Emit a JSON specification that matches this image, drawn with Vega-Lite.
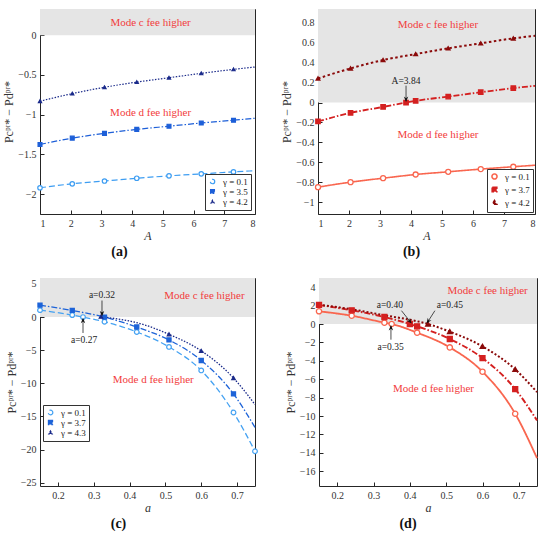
{
  "$schema": "https://vega.github.io/schema/vega-lite/v6.json",
  "padding": {"left": 2, "top": 8, "right": 6, "bottom": 2},
  "spacing": 17,
  "datasets": {
    "a": [
      {"g": "γ = 0.1", "x": 1, "y": -1.92, "m": 1},
      {"g": "γ = 0.1", "x": 2.05, "y": -1.87, "m": 1},
      {"g": "γ = 0.1", "x": 3.1, "y": -1.835, "m": 1},
      {"g": "γ = 0.1", "x": 4.15, "y": -1.8, "m": 1},
      {"g": "γ = 0.1", "x": 5.2, "y": -1.77, "m": 1},
      {"g": "γ = 0.1", "x": 6.25, "y": -1.745, "m": 1},
      {"g": "γ = 0.1", "x": 7.3, "y": -1.72, "m": 1},
      {"g": "γ = 0.1", "x": 8, "y": -1.705, "m": 0},
      {"g": "γ = 3.5", "x": 1, "y": -1.375, "m": 1},
      {"g": "γ = 3.5", "x": 2.05, "y": -1.295, "m": 1},
      {"g": "γ = 3.5", "x": 3.1, "y": -1.235, "m": 1},
      {"g": "γ = 3.5", "x": 4.15, "y": -1.185, "m": 1},
      {"g": "γ = 3.5", "x": 5.2, "y": -1.145, "m": 1},
      {"g": "γ = 3.5", "x": 6.25, "y": -1.105, "m": 1},
      {"g": "γ = 3.5", "x": 7.3, "y": -1.07, "m": 1},
      {"g": "γ = 3.5", "x": 8, "y": -1.045, "m": 0},
      {"g": "γ = 4.2", "x": 1, "y": -0.83, "m": 1},
      {"g": "γ = 4.2", "x": 2.05, "y": -0.735, "m": 1},
      {"g": "γ = 4.2", "x": 3.1, "y": -0.655, "m": 1},
      {"g": "γ = 4.2", "x": 4.15, "y": -0.59, "m": 1},
      {"g": "γ = 4.2", "x": 5.2, "y": -0.535, "m": 1},
      {"g": "γ = 4.2", "x": 6.25, "y": -0.48, "m": 1},
      {"g": "γ = 4.2", "x": 7.3, "y": -0.43, "m": 1},
      {"g": "γ = 4.2", "x": 8, "y": -0.4, "m": 0}
    ],
    "b": [
      {"g": "γ = 0.1", "x": 1, "y": -0.85, "m": 1},
      {"g": "γ = 0.1", "x": 2.05, "y": -0.8, "m": 1},
      {"g": "γ = 0.1", "x": 3.1, "y": -0.76, "m": 1},
      {"g": "γ = 0.1", "x": 4.15, "y": -0.723, "m": 1},
      {"g": "γ = 0.1", "x": 5.2, "y": -0.696, "m": 1},
      {"g": "γ = 0.1", "x": 6.25, "y": -0.669, "m": 1},
      {"g": "γ = 0.1", "x": 7.3, "y": -0.645, "m": 1},
      {"g": "γ = 0.1", "x": 8, "y": -0.63, "m": 0},
      {"g": "γ = 3.7", "x": 1, "y": -0.19, "m": 1},
      {"g": "γ = 3.7", "x": 2.05, "y": -0.104, "m": 1},
      {"g": "γ = 3.7", "x": 3.1, "y": -0.044, "m": 1},
      {"g": "γ = 3.7", "x": 3.84, "y": 0, "m": 1},
      {"g": "γ = 3.7", "x": 4.15, "y": 0.017, "m": 1},
      {"g": "γ = 3.7", "x": 5.2, "y": 0.06, "m": 1},
      {"g": "γ = 3.7", "x": 6.25, "y": 0.104, "m": 1},
      {"g": "γ = 3.7", "x": 7.3, "y": 0.145, "m": 1},
      {"g": "γ = 3.7", "x": 8, "y": 0.168, "m": 0},
      {"g": "γ = 4.2", "x": 1, "y": 0.242, "m": 1},
      {"g": "γ = 4.2", "x": 2.05, "y": 0.343, "m": 1},
      {"g": "γ = 4.2", "x": 3.1, "y": 0.427, "m": 1},
      {"g": "γ = 4.2", "x": 4.15, "y": 0.487, "m": 1},
      {"g": "γ = 4.2", "x": 5.2, "y": 0.545, "m": 1},
      {"g": "γ = 4.2", "x": 6.25, "y": 0.595, "m": 1},
      {"g": "γ = 4.2", "x": 7.3, "y": 0.645, "m": 1},
      {"g": "γ = 4.2", "x": 8, "y": 0.67, "m": 0}
    ],
    "c": [
      {"g": "γ = 0.1", "x": 0.15, "y": 1.05, "m": 1},
      {"g": "γ = 0.1", "x": 0.24, "y": 0.3, "m": 1},
      {"g": "γ = 0.1", "x": 0.27, "y": 0, "m": 1},
      {"g": "γ = 0.1", "x": 0.33, "y": -0.7, "m": 1},
      {"g": "γ = 0.1", "x": 0.42, "y": -2.25, "m": 1},
      {"g": "γ = 0.1", "x": 0.51, "y": -4.5, "m": 1},
      {"g": "γ = 0.1", "x": 0.6, "y": -8.05, "m": 1},
      {"g": "γ = 0.1", "x": 0.69, "y": -14.4, "m": 1},
      {"g": "γ = 0.1", "x": 0.75, "y": -20.25, "m": 1},
      {"g": "γ = 3.7", "x": 0.15, "y": 1.8, "m": 1},
      {"g": "γ = 3.7", "x": 0.24, "y": 1.0, "m": 1},
      {"g": "γ = 3.7", "x": 0.33, "y": 0, "m": 1},
      {"g": "γ = 3.7", "x": 0.42, "y": -1.5, "m": 1},
      {"g": "γ = 3.7", "x": 0.51, "y": -3.45, "m": 1},
      {"g": "γ = 3.7", "x": 0.6, "y": -6.55, "m": 1},
      {"g": "γ = 3.7", "x": 0.69, "y": -11.6, "m": 1},
      {"g": "γ = 3.7", "x": 0.75, "y": -16.65, "m": 0},
      {"g": "γ = 4.3", "x": 0.32, "y": 0.05, "m": 1},
      {"g": "γ = 4.3", "x": 0.44, "y": -1.15, "m": 0},
      {"g": "γ = 4.3", "x": 0.51, "y": -2.6, "m": 1},
      {"g": "γ = 4.3", "x": 0.6, "y": -5.1, "m": 1},
      {"g": "γ = 4.3", "x": 0.69, "y": -9.2, "m": 1},
      {"g": "γ = 4.3", "x": 0.75, "y": -13.2, "m": 0}
    ],
    "d": [
      {"g": "γ = 0.1", "x": 0.15, "y": 1.38, "m": 1},
      {"g": "γ = 0.1", "x": 0.24, "y": 0.9, "m": 1},
      {"g": "γ = 0.1", "x": 0.33, "y": 0.15, "m": 1},
      {"g": "γ = 0.1", "x": 0.35, "y": 0, "m": 1},
      {"g": "γ = 0.1", "x": 0.42, "y": -0.94, "m": 1},
      {"g": "γ = 0.1", "x": 0.51, "y": -2.54, "m": 1},
      {"g": "γ = 0.1", "x": 0.6, "y": -5.18, "m": 1},
      {"g": "γ = 0.1", "x": 0.69, "y": -9.75, "m": 1},
      {"g": "γ = 0.1", "x": 0.75, "y": -14.57, "m": 0},
      {"g": "γ = 3.7", "x": 0.15, "y": 2.07, "m": 1},
      {"g": "γ = 3.7", "x": 0.24, "y": 1.49, "m": 1},
      {"g": "γ = 3.7", "x": 0.33, "y": 0.76, "m": 1},
      {"g": "γ = 3.7", "x": 0.4, "y": 0, "m": 1},
      {"g": "γ = 3.7", "x": 0.42, "y": -0.25, "m": 1},
      {"g": "γ = 3.7", "x": 0.51, "y": -1.63, "m": 1},
      {"g": "γ = 3.7", "x": 0.6, "y": -3.7, "m": 1},
      {"g": "γ = 3.7", "x": 0.69, "y": -7.07, "m": 1},
      {"g": "γ = 3.7", "x": 0.75, "y": -10.47, "m": 0},
      {"g": "γ = 4.2", "x": 0.15, "y": 2.1, "m": 0},
      {"g": "γ = 4.2", "x": 0.24, "y": 1.6, "m": 0},
      {"g": "γ = 4.2", "x": 0.33, "y": 0.95, "m": 0},
      {"g": "γ = 4.2", "x": 0.42, "y": 0.3, "m": 0},
      {"g": "γ = 4.2", "x": 0.45, "y": 0, "m": 1},
      {"g": "γ = 4.2", "x": 0.51, "y": -0.83, "m": 1},
      {"g": "γ = 4.2", "x": 0.6, "y": -2.43, "m": 1},
      {"g": "γ = 4.2", "x": 0.69, "y": -4.93, "m": 1},
      {"g": "γ = 4.2", "x": 0.75, "y": -7.4, "m": 0}
    ]
  },
  "vconcat": [
    {
      "spacing": 22,
      "resolve": {"scale": {"stroke": "independent", "fill": "independent", "shape": "independent", "strokeDash": "independent", "size": "independent", "strokeWidth": "independent", "x": "independent", "y": "independent"}, "legend": {"stroke": "independent", "fill": "independent", "shape": "independent", "strokeDash": "independent"}},
      "hconcat": [
        {
          "width": 215,
          "height": 205,
          "title": {"text": "(a)", "dx": -28},
          "layer": [
            {
              "data": {"values": [{"x": 1, "x2": 8, "y": 0, "y2": 0.33}]},
              "mark": {"type": "rect", "color": "#e5e5e5"},
              "encoding": {
                "x": {"field": "x", "type": "quantitative", "scale": {"domain": [1, 8], "nice": false, "zero": false}, "axis": {"title": "A", "titleFontStyle": "italic", "values": [1, 2, 3, 4, 5, 6, 7, 8], "format": "~g", "tickCount": 30}},
                "x2": {"field": "x2"},
                "y": {"field": "y", "type": "quantitative", "scale": {"domain": [-2.25, 0.33], "nice": false, "zero": false}, "axis": {"title": "Pcᵖʳ* − Pdᵖʳ*", "values": [0, -0.5, -1, -1.5, -2], "format": "~g", "tickCount": 30}},
                "y2": {"field": "y2"}
              }
            },
            {"mark": {"type": "rule", "color": "#222", "strokeWidth": 1}, "encoding": {"y": {"datum": 0}}},
            {
              "data": {"name": "a"},
              "mark": {"type": "line", "interpolate": "monotone", "strokeWidth": 1.2},
              "encoding": {
                "x": {"field": "x", "type": "quantitative"},
                "y": {"field": "y", "type": "quantitative"},
                "stroke": {"field": "g", "type": "nominal", "scale": {"domain": ["γ = 0.1", "γ = 3.5", "γ = 4.2"], "range": ["#3d9df2", "#1d5fd8", "#1a2a8a"]}, "legend": {"title": null, "symbolSize": 100, "labelOffset": 6, "encode": {"symbols": {"update": {"size": {"value": 100}, "shape": {"signal": "datum.index == 0 ? 'M-1,0L1,0M2.2,0L4.2,0M1,0A0.6,0.6 0 1,0 2.2,0A0.6,0.6 0 1,0 1,0Z' : datum.index == 1 ? 'M-1,0L4.2,0M1.2,-0.4L2,-0.4L2,0.4L1.2,0.4Z' : 'M-1,0L4.2,0M1.6,-0.65L2.25,0.45L0.95,0.45Z'"}, "fill": {"signal": "datum.index == 0 ? '#ffffff' : datum.index == 1 ? '#1d5fd8' : '#1a2a8a'"}, "fillOpacity": {"value": 1}, "strokeDash": {"signal": "datum.index == 0 ? [5,2.5] : datum.index == 1 ? [5,1.5,1.5,1.5] : [1.5,1]"}}}}}},
                "strokeDash": {"field": "g", "type": "nominal", "scale": {"domain": ["γ = 0.1", "γ = 3.5", "γ = 4.2"], "range": [[6, 3], [6, 2, 1.5, 2], [1.5, 1.5]]}, "legend": null}
              }
            },
            {
              "data": {"name": "a"},
              "transform": [{"filter": "datum.m == 1"}],
              "mark": {"type": "point", "strokeWidth": 1.2, "opacity": 1, "fillOpacity": 1},
              "encoding": {
                "x": {"field": "x", "type": "quantitative"},
                "y": {"field": "y", "type": "quantitative"},
                "stroke": {"field": "g", "type": "nominal", "legend": null},
                "fill": {"field": "g", "type": "nominal", "scale": {"domain": ["γ = 0.1", "γ = 3.5", "γ = 4.2"], "range": ["#ffffff", "#1d5fd8", "#1a2a8a"]}, "legend": null},
                "shape": {"field": "g", "type": "nominal", "scale": {"domain": ["γ = 0.1", "γ = 3.5", "γ = 4.2"], "range": ["circle", "square", "triangle-up"]}, "legend": null},
                "size": {"field": "g", "type": "nominal", "scale": {"domain": ["γ = 0.1", "γ = 3.5", "γ = 4.2"], "range": [20, 10, 25]}, "legend": null}
              }
            },
            {
              "data": {"values": [{"x": 4.6, "y": 0.15, "t": "Mode c fee higher"}, {"x": 4.6, "y": -0.98, "t": "Mode d fee higher"}]},
              "mark": {"type": "text", "color": "#f23c3c", "fontSize": 11},
              "encoding": {"x": {"field": "x", "type": "quantitative"}, "y": {"field": "y", "type": "quantitative"}, "text": {"field": "t"}}
            }
          ]
        },
        {
          "width": 217,
          "height": 205,
          "title": {"text": "(b)", "dx": -15},
          "layer": [
            {
              "data": {"values": [{"x": 1, "x2": 8, "y": 0, "y2": 0.94}]},
              "mark": {"type": "rect", "color": "#e5e5e5"},
              "encoding": {
                "x": {"field": "x", "type": "quantitative", "scale": {"domain": [1, 8], "nice": false, "zero": false}, "axis": {"title": "A", "titleFontStyle": "italic", "values": [1, 2, 3, 4, 5, 6, 7, 8], "format": "~g", "tickCount": 30}},
                "x2": {"field": "x2"},
                "y": {"field": "y", "type": "quantitative", "scale": {"domain": [-1.12, 0.94], "nice": false, "zero": false}, "axis": {"title": "Pcᵖʳ* − Pdᵖʳ*", "values": [0.8, 0.6, 0.4, 0.2, 0, -0.2, -0.4, -0.6, -0.8, -1], "format": "~g", "tickCount": 30}},
                "y2": {"field": "y2"}
              }
            },
            {"mark": {"type": "rule", "color": "#222", "strokeWidth": 1}, "encoding": {"y": {"datum": 0}}},
            {
              "data": {"name": "b"},
              "mark": {"type": "line", "interpolate": "monotone"},
              "encoding": {
                "x": {"field": "x", "type": "quantitative"},
                "y": {"field": "y", "type": "quantitative"},
                "stroke": {"field": "g", "type": "nominal", "scale": {"domain": ["γ = 0.1", "γ = 3.7", "γ = 4.2"], "range": ["#f9664f", "#d42020", "#8b0a0a"]}, "legend": {"title": null, "symbolSize": 100, "labelOffset": 6, "offset": 2, "encode": {"symbols": {"update": {"size": {"value": 100}, "shape": {"signal": "datum.index == 0 ? 'M-1,0L1,0M2.2,0L4.2,0M1,0A0.6,0.6 0 1,0 2.2,0A0.6,0.6 0 1,0 1,0Z' : datum.index == 1 ? 'M-1,0L4.2,0M1.2,-0.4L2,-0.4L2,0.4L1.2,0.4Z' : 'M-1,0L4.2,0M1.6,-0.85L2.45,0.6L0.75,0.6Z'"}, "fill": {"signal": "datum.index == 0 ? '#ffffff' : datum.index == 1 ? '#d42020' : '#8b0a0a'"}, "fillOpacity": {"value": 1}, "strokeDash": {"signal": "datum.index == 0 ? [1,0] : datum.index == 1 ? [5,1.5,1.5,1.5] : [2,1.5]"}, "strokeWidth": {"signal": "datum.index == 2 ? 2.5 : 1.6"}}}}}},
                "strokeDash": {"field": "g", "type": "nominal", "scale": {"domain": ["γ = 0.1", "γ = 3.7", "γ = 4.2"], "range": [[1, 0], [6, 2, 1.5, 2], [2.5, 2.5]]}, "legend": null},
                "strokeWidth": {"field": "g", "type": "nominal", "scale": {"domain": ["γ = 0.1", "γ = 3.7", "γ = 4.2"], "range": [1.6, 2, 3.2]}, "legend": null}
              }
            },
            {
              "data": {"name": "b"},
              "transform": [{"filter": "datum.m == 1"}],
              "mark": {"type": "point", "strokeWidth": 1.3, "opacity": 1, "fillOpacity": 1},
              "encoding": {
                "x": {"field": "x", "type": "quantitative"},
                "y": {"field": "y", "type": "quantitative"},
                "stroke": {"field": "g", "type": "nominal", "legend": null},
                "fill": {"field": "g", "type": "nominal", "scale": {"domain": ["γ = 0.1", "γ = 3.7", "γ = 4.2"], "range": ["#ffffff", "#d42020", "#8b0a0a"]}, "legend": null},
                "shape": {"field": "g", "type": "nominal", "scale": {"domain": ["γ = 0.1", "γ = 3.7", "γ = 4.2"], "range": ["circle", "square", "triangle-up"]}, "legend": null},
                "size": {"field": "g", "type": "nominal", "scale": {"domain": ["γ = 0.1", "γ = 3.7", "γ = 4.2"], "range": [25, 14, 60]}, "legend": null}
              }
            },
            {
              "data": {"values": [{"x": 4.87, "y": 0.78, "t": "Mode c fee higher"}, {"x": 4.87, "y": -0.33, "t": "Mode d fee higher"}]},
              "mark": {"type": "text", "color": "#f23c3c", "fontSize": 11},
              "encoding": {"x": {"field": "x", "type": "quantitative"}, "y": {"field": "y", "type": "quantitative"}, "text": {"field": "t"}}
            },
            {
              "data": {"values": [{"x": 3.84, "y": 0.17, "x2": 3.84, "y2": 0.015}]},
              "mark": {"type": "rule", "color": "#222", "strokeWidth": 0.8},
              "encoding": {"x": {"field": "x", "type": "quantitative"}, "y": {"field": "y", "type": "quantitative"}, "x2": {"field": "x2"}, "y2": {"field": "y2"}}
            },
            {
              "data": {"values": [{"x": 3.84, "y": 0.005}]},
              "mark": {"type": "point", "shape": "M0,0L-0.8,-2L0,-1.4L0.8,-2Z", "filled": true, "color": "#111", "size": 30, "opacity": 1},
              "encoding": {"x": {"field": "x", "type": "quantitative"}, "y": {"field": "y", "type": "quantitative"}}
            },
            {
              "data": {"values": [{"x": 3.84, "y": 0.22, "t": "A=3.84"}]},
              "mark": {"type": "text", "color": "#222", "fontSize": 9.5},
              "encoding": {"x": {"field": "x", "type": "quantitative"}, "y": {"field": "y", "type": "quantitative"}, "text": {"field": "t"}}
            }
          ]
        }
      ]
    },
    {
      "spacing": 22,
      "resolve": {"scale": {"stroke": "independent", "fill": "independent", "shape": "independent", "strokeDash": "independent", "size": "independent", "strokeWidth": "independent", "x": "independent", "y": "independent"}, "legend": {"stroke": "independent", "fill": "independent", "shape": "independent", "strokeDash": "independent"}},
      "hconcat": [
        {
          "width": 215,
          "height": 208,
          "title": {"text": "(c)", "dx": -29},
          "layer": [
            {
              "data": {"values": [{"x": 0.15, "x2": 0.75, "y": 0, "y2": 5.9}]},
              "mark": {"type": "rect", "color": "#e5e5e5"},
              "encoding": {
                "x": {"field": "x", "type": "quantitative", "scale": {"domain": [0.15, 0.75], "nice": false, "zero": false}, "axis": {"title": "a", "titleFontStyle": "italic", "values": [0.2, 0.3, 0.4, 0.5, 0.6, 0.7], "format": "~g", "tickCount": 30}},
                "x2": {"field": "x2"},
                "y": {"field": "y", "type": "quantitative", "scale": {"domain": [-25.5, 5.9], "nice": false, "zero": false}, "axis": {"title": "Pcᵖʳ* − Pdᵖʳ*", "values": [5, 0, -5, -10, -15, -20, -25], "format": "~g", "tickCount": 30}},
                "y2": {"field": "y2"}
              }
            },
            {"mark": {"type": "rule", "color": "#222", "strokeWidth": 1}, "encoding": {"y": {"datum": 0}}},
            {
              "data": {"name": "c"},
              "mark": {"type": "line", "interpolate": "monotone", "strokeWidth": 1.3},
              "encoding": {
                "x": {"field": "x", "type": "quantitative"},
                "y": {"field": "y", "type": "quantitative"},
                "stroke": {"field": "g", "type": "nominal", "scale": {"domain": ["γ = 0.1", "γ = 3.7", "γ = 4.3"], "range": ["#45a2f2", "#1d63d8", "#1a2a8a"]}, "legend": {"title": null, "orient": "none", "legendX": 3, "legendY": 127, "symbolSize": 100, "labelOffset": 6, "encode": {"symbols": {"update": {"size": {"value": 100}, "shape": {"signal": "datum.index == 0 ? 'M-1,0L1,0M2.2,0L4.2,0M1,0A0.6,0.6 0 1,0 2.2,0A0.6,0.6 0 1,0 1,0Z' : datum.index == 1 ? 'M-1,0L4.2,0M1.2,-0.4L2,-0.4L2,0.4L1.2,0.4Z' : 'M-1,0L4.2,0M1.6,-0.65L2.25,0.45L0.95,0.45Z'"}, "fill": {"signal": "datum.index == 0 ? '#ffffff' : datum.index == 1 ? '#1d63d8' : '#1a2a8a'"}, "fillOpacity": {"value": 1}, "strokeDash": {"signal": "datum.index == 0 ? [5,2.5] : datum.index == 1 ? [5,1.5,1.5,1.5] : [1.5,1]"}}}}}},
                "strokeDash": {"field": "g", "type": "nominal", "scale": {"domain": ["γ = 0.1", "γ = 3.7", "γ = 4.3"], "range": [[6, 3], [6, 2, 1.5, 2], [1.5, 1.5]]}, "legend": null}
              }
            },
            {
              "data": {"name": "c"},
              "transform": [{"filter": "datum.m == 1"}],
              "mark": {"type": "point", "strokeWidth": 1.2, "opacity": 1, "fillOpacity": 1},
              "encoding": {
                "x": {"field": "x", "type": "quantitative"},
                "y": {"field": "y", "type": "quantitative"},
                "stroke": {"field": "g", "type": "nominal", "legend": null},
                "fill": {"field": "g", "type": "nominal", "scale": {"domain": ["γ = 0.1", "γ = 3.7", "γ = 4.3"], "range": ["#ffffff", "#1d63d8", "#1a2a8a"]}, "legend": null},
                "shape": {"field": "g", "type": "nominal", "scale": {"domain": ["γ = 0.1", "γ = 3.7", "γ = 4.3"], "range": ["circle", "square", "triangle-up"]}, "legend": null},
                "size": {"field": "g", "type": "nominal", "scale": {"domain": ["γ = 0.1", "γ = 3.7", "γ = 4.3"], "range": [22, 12, 28]}, "legend": null}
              }
            },
            {
              "data": {"values": [{"x": 0.609, "y": 3.2, "t": "Mode c fee higher"}, {"x": 0.466, "y": -9.5, "t": "Mode d fee higher"}]},
              "mark": {"type": "text", "color": "#f23c3c", "fontSize": 11},
              "encoding": {"x": {"field": "x", "type": "quantitative"}, "y": {"field": "y", "type": "quantitative"}, "text": {"field": "t"}}
            },
            {
              "data": {"values": [{"x": 0.323, "y": 2.5, "x2": 0.323, "y2": 0.3}, {"x": 0.27, "y": -2.4, "x2": 0.27, "y2": -0.3}]},
              "mark": {"type": "rule", "color": "#222", "strokeWidth": 0.8},
              "encoding": {"x": {"field": "x", "type": "quantitative"}, "y": {"field": "y", "type": "quantitative"}, "x2": {"field": "x2"}, "y2": {"field": "y2"}}
            },
            {
              "data": {"values": [{"x": 0.323, "y": 0.1}]},
              "mark": {"type": "point", "shape": "M0,0L-0.8,-2L0,-1.4L0.8,-2Z", "filled": true, "color": "#111", "size": 30, "opacity": 1},
              "encoding": {"x": {"field": "x", "type": "quantitative"}, "y": {"field": "y", "type": "quantitative"}}
            },
            {
              "data": {"values": [{"x": 0.27, "y": -0.1}]},
              "mark": {"type": "point", "shape": "M0,0L-0.8,2L0,1.4L0.8,2Z", "filled": true, "color": "#111", "size": 30, "opacity": 1},
              "encoding": {"x": {"field": "x", "type": "quantitative"}, "y": {"field": "y", "type": "quantitative"}}
            },
            {
              "data": {"values": [{"x": 0.323, "y": 3.3, "t": "a=0.32"}, {"x": 0.273, "y": -3.4, "t": "a=0.27"}]},
              "mark": {"type": "text", "color": "#222", "fontSize": 9.5},
              "encoding": {"x": {"field": "x", "type": "quantitative"}, "y": {"field": "y", "type": "quantitative"}, "text": {"field": "t"}}
            }
          ]
        },
        {
          "width": 218,
          "height": 208,
          "title": {"text": "(d)", "dx": -20},
          "layer": [
            {
              "data": {"values": [{"x": 0.15, "x2": 0.75, "y": 0, "y2": 5}]},
              "mark": {"type": "rect", "color": "#e5e5e5"},
              "encoding": {
                "x": {"field": "x", "type": "quantitative", "scale": {"domain": [0.15, 0.75], "nice": false, "zero": false}, "axis": {"title": "a", "titleFontStyle": "italic", "values": [0.2, 0.3, 0.4, 0.5, 0.6, 0.7], "format": "~g", "tickCount": 30}},
                "x2": {"field": "x2"},
                "y": {"field": "y", "type": "quantitative", "scale": {"domain": [-17.6, 5], "nice": false, "zero": false}, "axis": {"title": "Pcᵖʳ* − Pdᵖʳ*", "values": [4, 2, 0, -2, -4, -6, -8, -10, -12, -14, -16], "format": "~g", "tickCount": 30}},
                "y2": {"field": "y2"}
              }
            },
            {"mark": {"type": "rule", "color": "#222", "strokeWidth": 1}, "encoding": {"y": {"datum": 0}}},
            {
              "data": {"name": "d"},
              "mark": {"type": "line", "interpolate": "monotone"},
              "encoding": {
                "x": {"field": "x", "type": "quantitative"},
                "y": {"field": "y", "type": "quantitative"},
                "stroke": {"field": "g", "type": "nominal", "scale": {"domain": ["γ = 0.1", "γ = 3.7", "γ = 4.2"], "range": ["#f9664f", "#d42020", "#8b0a0a"]}, "legend": null},
                "strokeDash": {"field": "g", "type": "nominal", "scale": {"domain": ["γ = 0.1", "γ = 3.7", "γ = 4.2"], "range": [[1, 0], [6, 2, 1.5, 2], [2, 2]]}, "legend": null},
                "strokeWidth": {"field": "g", "type": "nominal", "scale": {"domain": ["γ = 0.1", "γ = 3.7", "γ = 4.2"], "range": [1.8, 2, 2]}, "legend": null}
              }
            },
            {
              "data": {"name": "d"},
              "transform": [{"filter": "datum.m == 1"}],
              "mark": {"type": "point", "strokeWidth": 1.3, "opacity": 1, "fillOpacity": 1},
              "encoding": {
                "x": {"field": "x", "type": "quantitative"},
                "y": {"field": "y", "type": "quantitative"},
                "stroke": {"field": "g", "type": "nominal", "legend": null},
                "fill": {"field": "g", "type": "nominal", "scale": {"domain": ["γ = 0.1", "γ = 3.7", "γ = 4.2"], "range": ["#ffffff", "#d42020", "#8b0a0a"]}, "legend": null},
                "shape": {"field": "g", "type": "nominal", "scale": {"domain": ["γ = 0.1", "γ = 3.7", "γ = 4.2"], "range": ["circle", "square", "triangle-up"]}, "legend": null},
                "size": {"field": "g", "type": "nominal", "scale": {"domain": ["γ = 0.1", "γ = 3.7", "γ = 4.2"], "range": [28, 22, 45]}, "legend": null}
              }
            },
            {
              "data": {"values": [{"x": 0.614, "y": 3.55, "t": "Mode c fee higher"}, {"x": 0.465, "y": -7.1, "t": "Mode d fee higher"}]},
              "mark": {"type": "text", "color": "#f23c3c", "fontSize": 11},
              "encoding": {"x": {"field": "x", "type": "quantitative"}, "y": {"field": "y", "type": "quantitative"}, "text": {"field": "t"}}
            },
            {
              "data": {"values": [{"x": 0.377, "y": 1.45, "x2": 0.403, "y2": 0.15}, {"x": 0.469, "y": 1.45, "x2": 0.448, "y2": 0.15}, {"x": 0.348, "y": -1.7, "x2": 0.348, "y2": -0.2}]},
              "mark": {"type": "rule", "color": "#222", "strokeWidth": 0.8},
              "encoding": {"x": {"field": "x", "type": "quantitative"}, "y": {"field": "y", "type": "quantitative"}, "x2": {"field": "x2"}, "y2": {"field": "y2"}}
            },
            {
              "data": {"values": [{"x": 0.405, "y": 0.05}]},
              "mark": {"type": "point", "shape": "M0,0L-0.8,-2L0,-1.4L0.8,-2Z", "filled": true, "color": "#111", "size": 30, "opacity": 1, "angle": 321},
              "encoding": {"x": {"field": "x", "type": "quantitative"}, "y": {"field": "y", "type": "quantitative"}}
            },
            {
              "data": {"values": [{"x": 0.446, "y": 0.05}]},
              "mark": {"type": "point", "shape": "M0,0L-0.8,-2L0,-1.4L0.8,-2Z", "filled": true, "color": "#111", "size": 30, "opacity": 1, "angle": 34},
              "encoding": {"x": {"field": "x", "type": "quantitative"}, "y": {"field": "y", "type": "quantitative"}}
            },
            {
              "data": {"values": [{"x": 0.348, "y": -0.1}]},
              "mark": {"type": "point", "shape": "M0,0L-0.8,2L0,1.4L0.8,2Z", "filled": true, "color": "#111", "size": 30, "opacity": 1},
              "encoding": {"x": {"field": "x", "type": "quantitative"}, "y": {"field": "y", "type": "quantitative"}}
            },
            {
              "data": {"values": [{"x": 0.345, "y": 2.1, "t": "a=0.40"}, {"x": 0.51, "y": 2.1, "t": "a=0.45"}, {"x": 0.347, "y": -2.45, "t": "a=0.35"}]},
              "mark": {"type": "text", "color": "#222", "fontSize": 9.5},
              "encoding": {"x": {"field": "x", "type": "quantitative"}, "y": {"field": "y", "type": "quantitative"}, "text": {"field": "t"}}
            }
          ]
        }
      ]
    }
  ],
  "resolve": {"scale": {"stroke": "independent", "fill": "independent", "shape": "independent", "strokeDash": "independent", "size": "independent", "strokeWidth": "independent", "x": "independent", "y": "independent"}, "legend": {"stroke": "independent", "fill": "independent", "shape": "independent", "strokeDash": "independent"}},
  "config": {
    "font": "Liberation Serif",
    "view": {"stroke": "#262626", "strokeWidth": 1},
    "axis": {
      "grid": false,
      "domain": false,
      "labelOverlap": false,
      "tickColor": "#262626",
      "tickSize": -4,
      "labelPadding": 8,
      "labelFont": "Liberation Serif",
      "labelFontSize": 10,
      "labelColor": "#333",
      "titleFont": "Liberation Serif",
      "titleFontSize": 12,
      "titleFontWeight": "normal",
      "titleColor": "#333",
      "titlePadding": 2
    },
    "legend": {
      "orient": "bottom-right",
      "offset": 4,
      "fillColor": "#ffffff",
      "strokeColor": "#333",
      "padding": 3,
      "rowPadding": 0,
      "labelFont": "Liberation Serif",
      "labelFontSize": 9,
      "labelColor": "#222",
      "symbolStrokeWidth": 1.2
    },
    "title": {"orient": "bottom", "font": "Liberation Serif", "fontSize": 14, "fontWeight": "bold", "color": "#111", "offset": 4}
  }
}
